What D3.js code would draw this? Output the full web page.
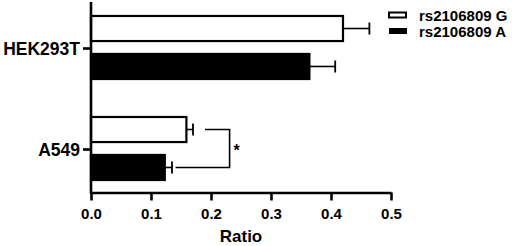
<!DOCTYPE html>
<html>
<head>
<meta charset="utf-8">
<script src="https://cdn.jsdelivr.net/npm/d3@7"></script>
<style>
  html, body { margin: 0; padding: 0; background: #ffffff; }
  svg { display: block; font-family: "Liberation Sans", Arial, sans-serif; font-weight: bold; }
</style>
</head>
<body>
<div id="chart"></div>
<script>
// Values
const categories = ["HEK293T", "A549"];
const seriesNames = ["rs2106809 G", "rs2106809 A"];
const seriesFill = ["#ffffff", "#000000"];
const meanG = [0.42, 0.159];
const errG = [0.044, 0.011];
const meanA = [0.364, 0.123];
const errA = [0.043, 0.012];
const xTicks = [0, 0.1, 0.2, 0.3, 0.4, 0.5];
// significance bracket on A549: left ends of the two arms, vertical part, label
const sigCategory = "A549";
const sigArmStart = [0.19, 0.141];
const sigBracketX = 0.231;
const sigLabel = "*";

(function () {
  const width = 512;
  const height = 246;
  const margin = { top: 2, left: 91, axisY: 192.5 };

  const svg = d3.select("#chart").append("svg").attr("width", width).attr("height", height);

  const rows = categories.map((cat, i) => ({
    category: cat,
    values: [
      { series: 0, mean: meanG[i], err: errG[i] },
      { series: 1, mean: meanA[i], err: errA[i] },
    ],
  }));

  const x = d3.scaleLinear().domain([0, 0.5]).range([margin.left, margin.left + 300]);
  const y0 = d3.scaleBand().domain(categories).range([-3, 199]).paddingInner(0.376).paddingOuter(0.188);
  const y1 = d3.scaleBand().domain([0, 1]).range([0, y0.bandwidth()]).paddingInner(0.34);

  const groups = svg
    .append("g")
    .selectAll("g")
    .data(rows)
    .join("g")
    .attr("transform", (d) => `translate(0, ${y0(d.category)})`);

  const bars = groups
    .selectAll("g")
    .data((d) => d.values)
    .join("g");

  bars
    .append("line")
    .attr("x1", (d) => x(d.mean))
    .attr("x2", (d) => x(d.mean + d.err))
    .attr("y1", (d) => y1(d.series) + y1.bandwidth() / 2)
    .attr("y2", (d) => y1(d.series) + y1.bandwidth() / 2)
    .attr("stroke", "#000")
    .attr("stroke-width", 1.6);

  bars
    .append("line")
    .attr("x1", (d) => x(d.mean + d.err))
    .attr("x2", (d) => x(d.mean + d.err))
    .attr("y1", (d) => y1(d.series) + y1.bandwidth() / 2 - 6)
    .attr("y2", (d) => y1(d.series) + y1.bandwidth() / 2 + 6)
    .attr("stroke", "#000")
    .attr("stroke-width", 1.8);

  bars
    .append("rect")
    .attr("x", x(0))
    .attr("y", (d) => y1(d.series))
    .attr("width", (d) => x(d.mean) - x(0))
    .attr("height", y1.bandwidth())
    .attr("fill", (d) => seriesFill[d.series])
    .attr("stroke", "#000")
    .attr("stroke-width", 2.2);

  // significance bracket
  const sigTop = y0(sigCategory) + y1(0) + y1.bandwidth() / 2;
  const sigBottom = y0(sigCategory) + y1(1) + y1.bandwidth() / 2;
  svg
    .append("path")
    .attr("d", `M${x(sigArmStart[0])},${sigTop}H${x(sigBracketX)}V${sigBottom}H${x(sigArmStart[1])}`)
    .attr("fill", "none")
    .attr("stroke", "#000")
    .attr("stroke-width", 1.6);
  svg
    .append("text")
    .attr("x", x(sigBracketX) + 4)
    .attr("y", (sigTop + sigBottom) / 2 + 7)
    .attr("font-size", "16px")
    .attr("fill", "#000")
    .text(sigLabel);

  // x axis
  svg
    .append("g")
    .attr("transform", `translate(0, ${margin.axisY})`)
    .call(d3.axisBottom(x).tickValues(xTicks).tickFormat(d3.format(".1f")).tickSize(8).tickSizeOuter(0))
    .call((axis) => axis.select(".domain").attr("stroke", "#000").attr("stroke-width", 2.6))
    .call((axis) => axis.selectAll(".tick line").attr("stroke", "#000").attr("stroke-width", 2.6))
    .call((axis) =>
      axis
        .selectAll(".tick text")
        .attr("y", 26)
        .attr("dy", 0)
        .attr("fill", "#000")
        .attr("font-size", "15px")
        .attr("font-family", null)
    );

  // y axis
  svg
    .append("line")
    .attr("x1", margin.left)
    .attr("x2", margin.left)
    .attr("y1", margin.top)
    .attr("y2", margin.axisY + 1.3)
    .attr("stroke", "#000")
    .attr("stroke-width", 2.6);

  const yTicks = svg
    .append("g")
    .selectAll("g")
    .data(categories)
    .join("g")
    .attr("transform", (d) => `translate(0, ${y0(d) + y0.bandwidth() / 2 + 1})`);
  yTicks
    .append("line")
    .attr("x1", margin.left - 8)
    .attr("x2", margin.left)
    .attr("stroke", "#000")
    .attr("stroke-width", 2.6);
  yTicks
    .append("text")
    .attr("x", margin.left - 11)
    .attr("dy", "0.35em")
    .attr("text-anchor", "end")
    .attr("font-size", "17.5px")
    .attr("fill", "#000")
    .text((d) => d);

  svg
    .append("text")
    .attr("x", (x.range()[0] + x.range()[1]) / 2)
    .attr("y", 242)
    .attr("text-anchor", "middle")
    .attr("font-size", "17px")
    .attr("fill", "#000")
    .text("Ratio");

  // legend
  const legend = svg
    .append("g")
    .attr("transform", "translate(389, 15)")
    .selectAll("g")
    .data(seriesNames)
    .join("g")
    .attr("transform", (d, i) => `translate(0, ${i * 16})`);
  legend
    .append("rect")
    .attr("x", 0)
    .attr("y", (d, i) => (i === 0 ? -2.5 : -3))
    .attr("width", (d, i) => (i === 0 ? 17 : 18))
    .attr("height", (d, i) => (i === 0 ? 5 : 6))
    .attr("fill", (d, i) => seriesFill[i])
    .attr("stroke", (d, i) => (i === 0 ? "#000" : "none"))
    .attr("stroke-width", 2);
  legend
    .append("text")
    .attr("x", 30)
    .attr("y", 5.5)
    .attr("font-size", "15px")
    .attr("fill", "#000")
    .text((d) => d);
})();
</script>
</body>
</html>
